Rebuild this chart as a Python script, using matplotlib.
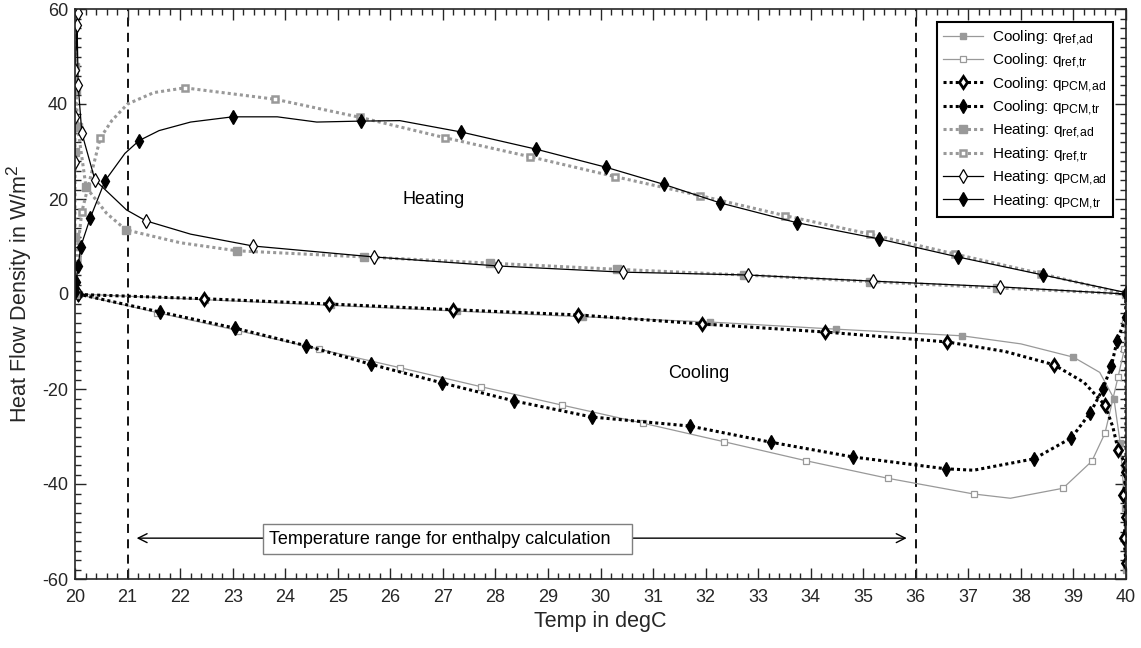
import numpy as np
import matplotlib
import matplotlib.pyplot as plt
from matplotlib.ticker import MultipleLocator

plt.rcParams['font.family'] = ['Liberation Sans', 'DejaVu Sans']
plt.rcParams['mathtext.fontset'] = 'custom'
plt.rcParams['mathtext.rm'] = 'Liberation Sans'
plt.rcParams['mathtext.it'] = 'Liberation Sans:italic'
plt.rcParams['axes.unicode_minus'] = False
# MATLAB-like subscripts are a bit larger than the mathtext default
if hasattr(matplotlib, '_mathtext') and hasattr(matplotlib._mathtext, 'SHRINK_FACTOR'):
    matplotlib._mathtext.SHRINK_FACTOR = 0.8

# values (temperature in degC, heat flow density in W/m2)
# nomark = indices of points on the line that carry no marker

# cooling, reference, adiabatic
c_ref_ad_T = [40.0, 40.0, 39.98, 39.89, 39.77, 39.5, 39.0, 38.0, 36.88, 34.48, 32.08, 29.67, 27.27, 24.87, 22.47, 20.07]
c_ref_ad_q = [0.0, -58.0, -45.0, -31.4, -22.0, -16.5, -13.3, -10.5, -8.8, -7.4, -5.9, -4.8, -3.6, -2.4, -1.2, 0.0]
c_ref_ad_nomark = [0, 5, 7]

# cooling, reference, transient
c_ref_tr_T = [40.0, 39.99, 39.97, 39.85, 39.6, 39.35, 38.8, 37.8, 37.1, 35.47, 33.91, 32.35, 30.81, 29.27, 27.72, 26.18, 24.64, 23.1, 21.56, 20.02]
c_ref_tr_q = [0.0, -5.5, -11.6, -17.4, -29.3, -35.2, -40.9, -43.0, -42.1, -38.8, -35.1, -31.1, -27.2, -23.4, -19.5, -15.5, -11.6, -7.7, -3.9, 0.0]
c_ref_tr_nomark = [0, 7]

# cooling, PCM, adiabatic
c_pcm_ad_T = [40.0, 40.0, 39.96, 40.0, 39.95, 40.0, 40.0, 39.85, 39.75, 39.6, 39.2, 38.63, 37.7, 36.6, 34.27, 31.93, 29.57, 27.19, 24.83, 22.46, 20.05, 20.0]
c_pcm_ad_q = [0.0, -56.6, -51.4, -46.9, -42.3, -37.5, -36.0, -32.8, -28.0, -23.4, -18.6, -14.9, -12.1, -10.1, -8.0, -6.3, -4.4, -3.3, -2.1, -1.0, -0.1, 0.0]
c_pcm_ad_nomark = [0, 8, 10, 12, 21]

# cooling, PCM, transient
c_pcm_tr_T = [40.0, 40.0, 39.83, 39.72, 39.56, 39.32, 38.96, 38.25, 37.1, 36.57, 34.8, 33.24, 31.7, 29.84, 28.35, 26.98, 25.63, 24.4, 23.05, 21.62, 20.05]
c_pcm_tr_q = [0.0, -4.8, -9.9, -15.2, -20.0, -25.0, -30.3, -34.7, -37.1, -36.8, -34.3, -31.2, -27.8, -25.9, -22.5, -18.7, -14.8, -10.9, -7.2, -3.8, 0.0]
c_pcm_tr_nomark = [8]

# heating, reference, adiabatic
h_ref_ad_T = [20.0, 20.0, 20.0, 20.0, 20.0, 20.02, 20.05, 20.21, 20.6, 20.97, 22.0, 23.08, 25.5, 27.9, 30.32, 32.73, 35.13, 37.54, 40.0]
h_ref_ad_q = [0.0, 12.0, 30.0, 47.8, 59.4, 43.0, 35.2, 22.5, 17.0, 13.5, 10.8, 9.1, 7.8, 6.5, 5.2, 4.0, 2.6, 1.3, 0.0]
h_ref_ad_nomark = [8, 10]

# heating, reference, transient
h_ref_tr_T = [20.0, 20.03, 20.13, 20.48, 20.7, 21.0, 21.5, 22.09, 23.81, 25.42, 27.04, 28.66, 30.28, 31.9, 33.51, 35.13, 36.75, 38.38, 40.0]
h_ref_tr_q = [0.0, 7.5, 17.3, 32.8, 36.5, 40.0, 42.4, 43.4, 41.0, 37.2, 32.9, 28.9, 24.7, 20.7, 16.5, 12.6, 8.4, 4.3, 0.0]
h_ref_tr_nomark = [4, 5, 6]

# heating, PCM, adiabatic
h_pcm_ad_T = [20.0, 20.0, 20.0, 20.0, 20.06, 20.04, 20.06, 20.13, 20.38, 20.98, 21.35, 22.2, 23.39, 25.69, 28.05, 30.43, 32.8, 35.19, 37.6, 40.0]
h_pcm_ad_q = [0.0, 27.8, 37.3, 47.2, 59.1, 56.6, 44.0, 33.9, 24.0, 17.7, 15.4, 12.6, 10.1, 7.8, 5.9, 4.6, 4.0, 2.7, 1.5, 0.0]
h_pcm_ad_nomark = [0, 9, 11]

# heating, PCM, transient
h_pcm_tr_T = [20.0, 20.02, 20.06, 20.11, 20.29, 20.57, 20.95, 21.22, 21.6, 22.2, 23.0, 23.85, 24.6, 25.44, 26.18, 27.35, 28.77, 30.1, 31.2, 32.27, 33.74, 35.3, 36.8, 38.42, 40.0]
h_pcm_tr_q = [0.5, 2.5, 6.0, 10.0, 16.0, 23.8, 29.6, 32.3, 34.4, 36.2, 37.3, 37.3, 36.2, 36.4, 36.5, 34.1, 30.5, 26.7, 23.1, 19.2, 15.0, 11.6, 7.8, 4.0, 0.3]
h_pcm_tr_nomark = [6, 8, 9, 11, 12, 14]

labels = [r'Cooling: q$_{\mathrm{ref{,}ad}}$', r'Cooling: q$_{\mathrm{ref{,}tr}}$',
          r'Cooling: q$_{\mathrm{PCM{,}ad}}$', r'Cooling: q$_{\mathrm{PCM{,}tr}}$',
          r'Heating: q$_{\mathrm{ref{,}ad}}$', r'Heating: q$_{\mathrm{ref{,}tr}}$',
          r'Heating: q$_{\mathrm{PCM{,}ad}}$', r'Heating: q$_{\mathrm{PCM{,}tr}}$']

range_lo, range_hi = 21, 36

gray = '#999999'
dots = (0, (1, 1))


def marks(T, nomark):
    return [i for i in range(len(T)) if i not in nomark]


fig = plt.figure(figsize=(11.41, 6.48), dpi=100)
ax = fig.add_axes([75/1141, 1-579/648, (1126-75)/1141, (579-9)/648])

ax.plot(c_ref_ad_T, c_ref_ad_q, '-', color=gray, lw=0.9, marker='s', ms=5, mfc=gray, mec=gray,
        markevery=marks(c_ref_ad_T, c_ref_ad_nomark), label=labels[0])
ax.plot(c_ref_tr_T, c_ref_tr_q, '-', color=gray, lw=0.9, marker='s', ms=5, mfc='white', mec=gray, mew=0.9,
        markevery=marks(c_ref_tr_T, c_ref_tr_nomark), label=labels[1])
ax.plot(c_pcm_ad_T, c_pcm_ad_q, color='black', ls=dots, lw=2.2, marker='d', ms=6.5, mfc='white', mec='black', mew=2,
        markevery=marks(c_pcm_ad_T, c_pcm_ad_nomark), label=labels[2])
ax.plot(c_pcm_tr_T, c_pcm_tr_q, color='black', ls=dots, lw=2.2, marker='d', ms=7.5, mfc='black', mec='black',
        markevery=marks(c_pcm_tr_T, c_pcm_tr_nomark), label=labels[3])
ax.plot(h_ref_ad_T, h_ref_ad_q, color=gray, ls=dots, lw=2.2, marker='s', ms=6, mfc=gray, mec=gray,
        markevery=marks(h_ref_ad_T, h_ref_ad_nomark), label=labels[4])
ax.plot(h_ref_tr_T, h_ref_tr_q, color=gray, ls=dots, lw=2.2, marker='s', ms=5, mfc='white', mec=gray, mew=1.8,
        markevery=marks(h_ref_tr_T, h_ref_tr_nomark), label=labels[5])
ax.plot(h_pcm_ad_T, h_pcm_ad_q, '-', color='black', lw=0.9, marker='d', ms=7.5, mfc='white', mec='black', mew=0.9,
        markevery=marks(h_pcm_ad_T, h_pcm_ad_nomark), label=labels[6])
ax.plot(h_pcm_tr_T, h_pcm_tr_q, '-', color='black', lw=0.9, marker='d', ms=7.5, mfc='black', mec='black',
        markevery=marks(h_pcm_tr_T, h_pcm_tr_nomark), label=labels[7])

for xv in (range_lo, range_hi):
    ax.axvline(xv, color='black', ls=(0, (5, 3.5)), lw=1.3, zorder=1)

ax.annotate('', xy=(range_lo + 0.12, -51.4), xytext=(range_hi - 0.12, -51.4),
            arrowprops=dict(arrowstyle='<->', lw=1, color='black', mutation_scale=16))
ax.text(23.7, -51.6, 'Temperature range for enthalpy calculation   ', fontsize=13, ha='left', va='center',
        bbox=dict(boxstyle='square,pad=0.35', fc='white', ec='#7f7f7f', lw=1), zorder=5)

ax.text(26.83, 19.8, 'Heating', fontsize=13, ha='center', va='center')
ax.text(31.87, -16.8, 'Cooling', fontsize=13, ha='center', va='center')

ax.set_xlim(20, 40)
ax.set_ylim(-60, 60)
ax.xaxis.set_major_locator(MultipleLocator(1))
ax.xaxis.set_minor_locator(MultipleLocator(0.2))
ax.yaxis.set_major_locator(MultipleLocator(20))
ax.yaxis.set_minor_locator(MultipleLocator(2))
dark = '#262626'
ax.tick_params(which='both', direction='in', top=True, right=True, colors=dark, width=1)
ax.tick_params(which='major', length=8, labelsize=13)
ax.tick_params(which='minor', length=4)
ax.tick_params(axis='x', which='major', pad=7)
ax.tick_params(axis='y', which='major', pad=5)
for s in ax.spines.values():
    s.set_color(dark)
    s.set_linewidth(1.2)

ax.set_xlabel('Temp in degC', fontsize=15.5, color=dark, labelpad=4)
ax.set_ylabel(r'Heat Flow Density in W/m$^2$', fontsize=15.5, color=dark, labelpad=6)

leg = ax.legend(loc='upper right', bbox_to_anchor=((1113-75)/1051, (579-22)/570), fontsize=11,
                handlelength=2.6, labelspacing=0.3, borderaxespad=0, fancybox=False,
                edgecolor='black', framealpha=1, borderpad=0.4, handletextpad=0.6)
leg.get_frame().set_linewidth(1.5)

fig.savefig('out.png', dpi=100)
